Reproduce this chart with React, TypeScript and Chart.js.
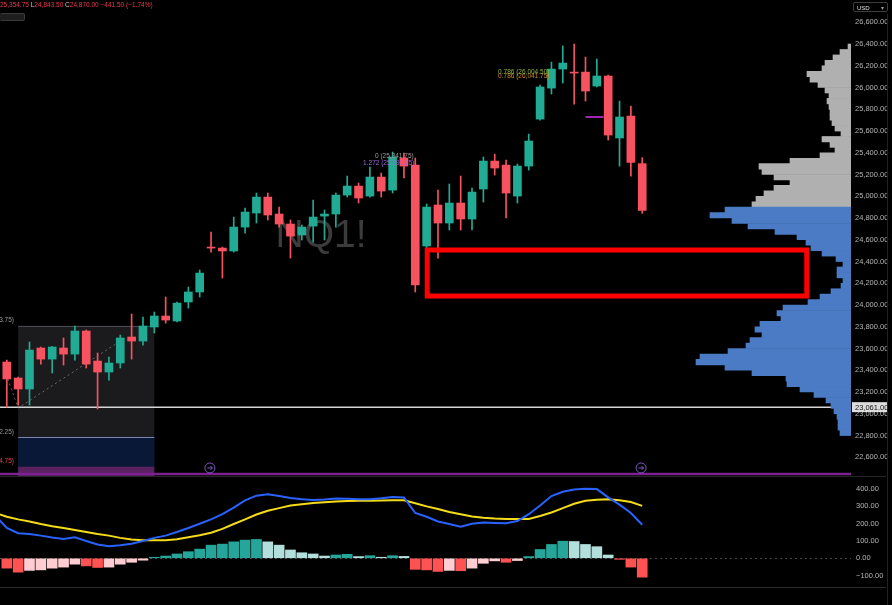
import React, { useEffect, useRef } from 'react';
import { Chart, registerables } from 'chart.js';

Chart.register(...registerables);

const FONT = '"Liberation Sans", Arial, sans-serif';
const GREEN = '#22ab94';
const RED = '#f7525f';
const PROFILE_GREY = '#b0b0b0';
const PROFILE_BLUE = '#4a7bc4';

// ---- candles (one per bar index 0..56) ----
const opens = [23476, 23329, 23228, 23605, 23503, 23605, 23549, 23761, 23485, 23384, 23467, 23706, 23669, 23798, 23899, 23853, 24028, 24120, 24533, 24524, 24497, 24717, 24846, 24993, 24837, 24745, 24644, 24726, 24818, 24837, 25011, 25094, 25002, 25177, 25057, 25352, 25287, 24543, 24920, 24754, 24938, 24791, 25067, 25324, 25287, 25002, 25278, 25710, 25995, 26170, 26142, 26142, 26014, 26106, 25536, 25738, 25300];
const highs = [23494, 23338, 23660, 23614, 23620, 23697, 23807, 23770, 23559, 23522, 23724, 23917, 23890, 23936, 24074, 24028, 24166, 24322, 24671, 24533, 24809, 24892, 25030, 25030, 24901, 24782, 24736, 24965, 24874, 25030, 25186, 25122, 25269, 25214, 25407, 25398, 25352, 24929, 25057, 25113, 25186, 25076, 25361, 25388, 25333, 25297, 25572, 26023, 26234, 26382, 26400, 26280, 26262, 26115, 25876, 25830, 25354.75];
const lows = [23061, 23080, 23080, 23457, 23375, 23448, 23494, 23421, 23044, 23310, 23421, 23503, 23632, 23743, 23834, 23844, 23972, 24074, 24487, 24248, 24487, 24662, 24754, 24782, 24717, 24432, 24598, 24579, 24598, 24717, 24993, 24938, 24993, 24993, 25030, 25168, 24120, 24506, 24432, 24690, 24690, 24690, 24947, 25195, 24800, 24938, 25241, 25701, 25940, 26041, 25848, 25876, 26005, 25517, 25278, 25186, 24843.5];
const closes = [23320, 23228, 23586, 23503, 23614, 23549, 23761, 23457, 23384, 23467, 23697, 23669, 23807, 23899, 23862, 24018, 24120, 24294, 24524, 24497, 24717, 24855, 24993, 24828, 24745, 24634, 24717, 24809, 24837, 25011, 25094, 24984, 25177, 25048, 25361, 25278, 24184, 24901, 24754, 24938, 24791, 25039, 25324, 25260, 25030, 25278, 25508, 26005, 26170, 26225, 26133, 25968, 26106, 25563, 25729, 25311.5, 24870];

// ---- MACD panel ----
const MACD_START = -1; // first line value belongs to the bar just left of the view
const macdLine = [245, 175, 145, 140, 131, 120, 112, 122, 100, 80, 69, 75, 84, 100, 118, 131, 152, 175, 200, 225, 255, 293, 335, 362, 370, 360, 348, 342, 337, 340, 346, 344, 341, 342, 347, 354, 352, 262, 240, 213, 198, 183, 200, 207, 204, 202, 215, 255, 305, 360, 385, 398, 402, 400, 352, 310, 262, 194];
const signalLine = [262, 240, 225, 213, 198, 185, 175, 163, 152, 140, 131, 118, 108, 105, 104, 105, 110, 122, 133, 148, 170, 198, 225, 253, 275, 290, 305, 312, 320, 324, 328, 331, 332, 333, 334, 335, 335, 318, 300, 285, 268, 255, 242, 235, 230, 227, 227, 227, 245, 265, 290, 315, 333, 338, 341, 336, 325, 303];
const histogram = [-57, -80, -70, -67, -57, -51, -34, -44, -53, -51, -34, -23, -11, 6, 13, 25, 38, 53, 76, 82, 95, 105, 109, 95, 76, 48, 32, 25, 13, 19, 23, 10, 15, 6, 15, 11, -64, -67, -76, -70, -72, -57, -29, -15, -23, -13, 10, 51, 80, 99, 97, 80, 67, 19, -6, -51, -109];

// ---- volume profile (price level -> relative volume) ----
const profilePrices = [26375, 26325, 26275, 26225, 26175, 26125, 26075, 26025, 25975, 25925, 25875, 25825, 25775, 25725, 25675, 25625, 25575, 25525, 25475, 25425, 25375, 25325, 25275, 25225, 25175, 25125, 25075, 25025, 24975, 24925, 24875, 24825, 24775, 24725, 24675, 24625, 24575, 24525, 24475, 24425, 24375, 24325, 24275, 24225, 24175, 24125, 24075, 24025, 23975, 23925, 23875, 23825, 23775, 23725, 23675, 23625, 23575, 23525, 23475, 23425, 23375, 23325, 23275, 23225, 23175, 23125, 23075, 23025, 22975, 22925, 22875, 22825];
const profileVolumes = [3, 11, 18, 26, 29, 44, 41, 33, 26, 22, 24, 22, 21, 21, 19, 16, 10, 29, 21, 16, 31, 61, 92, 89, 77, 61, 77, 87, 95, 99, 126, 141, 119, 103, 76, 54, 45, 40, 29, 15, 8, 14, 14, 8, 10, 20, 31, 43, 68, 74, 70, 91, 96, 89, 101, 105, 123, 151, 155, 126, 99, 65, 64, 51, 37, 25, 20, 17, 14, 13, 13, 11];
const PROFILE_SPLIT = 24900;

// ---- axes ----
const priceTicks = [22600, 22800, 23000, 23200, 23400, 23600, 23800, 24000, 24200, 24400, 24600, 24800, 25000, 25200, 25400, 25600, 25800, 26000, 26200, 26400, 26600];
const macdTicks = [-100, 0, 100, 200, 300, 400];
const X_MIN = -0.6, X_MAX = 74.4;
const PRICE_MIN = 22428, PRICE_MAX = 26805;
const MACD_MIN = -166, MACD_MAX = 470;
const PROFILE_MAX = 851;
const LAST_PRICE = 23061;

// ---- drawings ----
const watermark = { text: 'NQ1!', x: 27.7, y: 24635 };
const zoneRects = [
  { x0: 1, x1: 13, top: 23810, bottom: PRICE_MIN, fill: '#1b1b1e' },
  { x0: 1, x1: 13, top: 22789, bottom: 22513, fill: '#0a1838' },
  { x0: 1, x1: 13, top: 22513, bottom: PRICE_MIN, fill: '#5a2060' },
];
const zoneLines = [
  { x0: 1, x1: 13, y: 23810, color: '#4a4a50' },
  { x0: 1, x1: 13, y: 22789, color: '#7d88a8' },
];
const pathPoints = [{ x: -0.35, y: 23450 }, { x: 1, y: 23053 }, { x: 10.3, y: 23690 }];
const purpleMark = [{ x: 51, y: 25729 }, { x: 52.6, y: 25729 }];
const gapBox = { x0: 37.05, x1: 70.5, top: 24506, bottom: 24083 };
const separatorPrice = 22446;
const textLabels = [
  { x: 0.63, y: 23862, text: '(23,813.75)', color: '#9a9a9a', align: 'right' },
  { x: 0.63, y: 22835, text: '(22,792.25)', color: '#9a9a9a', align: 'right' },
  { x: 0.63, y: 22563, text: '(22,514.75)', color: '#e0405a', align: 'right' },
  { x: 43.3, y: 26106, text: '0.786 (26,041.75)', color: '#c98a2a', align: 'left' },
  { x: 43.3, y: 26140, text: '0.786 (26,004.50)', color: '#8fb33a', align: 'left' },
  { x: 32.45, y: 25370, text: '0 (25,341.75)', color: '#9a9a9a', align: 'left' },
  { x: 31.4, y: 25306, text: '1.272 (25,291.75)', color: '#9c6ade', align: 'left' },
];
const markers = [{ x: 17.9, y: 22502 }, { x: 55.9, y: 22502 }];

function fmt(v: number) {
  const s = Math.abs(v).toLocaleString('en-US', { minimumFractionDigits: 2, maximumFractionDigits: 2 });
  return (v < 0 ? '\u2212' : '') + s;
}

const underlay = {
  id: 'underlay',
  beforeDatasetsDraw(chart: any) {
    const { ctx, chartArea: a, scales } = chart;
    const xs = scales.x, ys = scales.y;
    ctx.save();
    ctx.beginPath();
    ctx.rect(a.left, a.top, a.right - a.left, a.bottom - a.top);
    ctx.clip();
    ctx.font = `39px ${FONT}`;
    ctx.fillStyle = '#3c3c3c';
    ctx.textAlign = 'center';
    ctx.textBaseline = 'middle';
    ctx.fillText(watermark.text, xs.getPixelForValue(watermark.x), ys.getPixelForValue(watermark.y));
    for (const z of zoneRects) {
      const x0 = xs.getPixelForValue(z.x0), x1 = xs.getPixelForValue(z.x1);
      const y0 = ys.getPixelForValue(z.top), y1 = ys.getPixelForValue(z.bottom);
      ctx.fillStyle = z.fill;
      ctx.fillRect(x0, y0, x1 - x0, y1 - y0);
    }
    for (const l of zoneLines) {
      const y = Math.round(ys.getPixelForValue(l.y)) + 0.5;
      ctx.strokeStyle = l.color;
      ctx.lineWidth = 1;
      ctx.beginPath();
      ctx.moveTo(xs.getPixelForValue(l.x0), y);
      ctx.lineTo(xs.getPixelForValue(l.x1), y);
      ctx.stroke();
    }
    // last price line
    let y = ys.getPixelForValue(LAST_PRICE);
    ctx.strokeStyle = '#d6d6d6';
    ctx.lineWidth = 1.5;
    ctx.beginPath();
    ctx.moveTo(a.left, y);
    ctx.lineTo(a.right, y);
    ctx.stroke();
    // separator
    y = ys.getPixelForValue(separatorPrice);
    ctx.strokeStyle = '#7b2290';
    ctx.lineWidth = 2.5;
    ctx.beginPath();
    ctx.moveTo(a.left, y);
    ctx.lineTo(a.right, y);
    ctx.stroke();
    ctx.restore();
  },
};

const overlay = {
  id: 'overlay',
  afterDatasetsDraw(chart: any) {
    const { ctx, chartArea: a, scales } = chart;
    const xs = scales.x, ys = scales.y;
    ctx.save();
    // gap box
    const bx0 = xs.getPixelForValue(gapBox.x0), bx1 = xs.getPixelForValue(gapBox.x1);
    const by0 = ys.getPixelForValue(gapBox.top), by1 = ys.getPixelForValue(gapBox.bottom);
    ctx.strokeStyle = '#ff0000';
    ctx.lineWidth = 5;
    ctx.strokeRect(bx0, by0, bx1 - bx0, by1 - by0);
    // labels
    ctx.font = `6.5px ${FONT}`;
    ctx.textBaseline = 'middle';
    for (const t of textLabels) {
      ctx.fillStyle = t.color;
      ctx.textAlign = t.align as CanvasTextAlign;
      ctx.fillText(t.text, xs.getPixelForValue(t.x), ys.getPixelForValue(t.y));
    }
    // markers
    for (const m of markers) {
      const mx = xs.getPixelForValue(m.x), my = ys.getPixelForValue(m.y);
      ctx.strokeStyle = '#7e57c2';
      ctx.lineWidth = 1;
      ctx.beginPath();
      ctx.arc(mx, my, 5, 0, Math.PI * 2);
      ctx.stroke();
      ctx.beginPath();
      ctx.moveTo(mx - 2.5, my);
      ctx.lineTo(mx + 2.5, my);
      ctx.moveTo(mx + 0.5, my - 2);
      ctx.lineTo(mx + 2.5, my);
      ctx.lineTo(mx + 0.5, my + 2);
      ctx.stroke();
    }
    // last price axis label
    const ly = ys.getPixelForValue(LAST_PRICE);
    ctx.fillStyle = '#dcdcdc';
    ctx.fillRect(a.right + 1, ly - 5, 35, 10);
    ctx.fillStyle = '#111';
    ctx.textAlign = 'left';
    ctx.font = `7.5px ${FONT}`;
    ctx.fillText(fmt(LAST_PRICE), a.right + 4, ly + 0.5);
    ctx.restore();
  },
};

const macdFrame = {
  id: 'macdFrame',
  afterDraw(chart: any) {
    const { ctx, chartArea: a } = chart;
    ctx.save();
    ctx.strokeStyle = '#2e2a26';
    ctx.lineWidth = 1;
    ctx.beginPath();
    ctx.moveTo(a.left, Math.round(a.bottom) + 0.5);
    ctx.lineTo(chart.width - 6, Math.round(a.bottom) + 0.5);
    ctx.stroke();
    ctx.restore();
  },
};

const fitRight = (s: any) => {
  s.width = 41;
  s.paddingTop = 0;
  s.paddingBottom = 0;
};

export default function App() {
  const priceRef = useRef<HTMLCanvasElement>(null);
  const macdRef = useRef<HTMLCanvasElement>(null);

  useEffect(() => {
    document.body.style.margin = '0';
    document.body.style.background = '#000';
    const idx = opens.map((_, i) => i);
    const candleColors = idx.map((i) => (closes[i] >= opens[i] ? GREEN : RED));

    const priceChart = new Chart(priceRef.current as HTMLCanvasElement, {
      type: 'bar',
      data: {
        datasets: [
          {
            type: 'bar', label: 'wicks',
            data: idx.map((i) => ({ x: i, y: [lows[i], highs[i]] })) as any,
            backgroundColor: candleColors, barThickness: 1, grouped: false,
            xAxisID: 'x', yAxisID: 'y', order: 3,
          } as any,
          {
            type: 'bar', label: 'bodies',
            data: idx.map((i) => ({ x: i, y: [opens[i], closes[i]] })) as any,
            backgroundColor: candleColors, barThickness: 8, grouped: false, minBarLength: 1,
            xAxisID: 'x', yAxisID: 'y', order: 2,
          } as any,
          {
            type: 'line', label: 'path', data: pathPoints as any,
            borderColor: 'rgba(170,170,170,0.55)', borderDash: [2, 3], borderWidth: 1,
            pointRadius: 0, xAxisID: 'x', yAxisID: 'y', order: 4,
          } as any,
          {
            type: 'line', label: 'mark', data: purpleMark as any,
            borderColor: '#9c27b0', borderWidth: 2, pointRadius: 0,
            xAxisID: 'x', yAxisID: 'y', order: 1,
          } as any,
          {
            type: 'bar', label: 'profile', indexAxis: 'y',
            data: profilePrices.map((p, k) => ({ x: profileVolumes[k], y: p })) as any,
            backgroundColor: profilePrices.map((p) => (p >= PROFILE_SPLIT ? PROFILE_GREY : PROFILE_BLUE)),
            barPercentage: 1, categoryPercentage: 1, grouped: false, borderWidth: 0,
            xAxisID: 'xv', yAxisID: 'yp', order: 5,
          } as any,
        ],
      },
      options: {
        responsive: false, animation: false, devicePixelRatio: 1,
        layout: { padding: 0 },
        plugins: { legend: { display: false }, tooltip: { enabled: false } },
        scales: {
          x: { type: 'linear', min: X_MIN, max: X_MAX, display: false, offset: false },
          xv: { type: 'linear', min: 0, max: PROFILE_MAX, reverse: true, display: false, offset: false },
          y: {
            type: 'linear', position: 'right', min: PRICE_MIN, max: PRICE_MAX, offset: false,
            grid: { display: false, drawTicks: false }, border: { display: false },
            ticks: {
              autoSkip: false, padding: 4, color: '#b4b4b4',
              font: { family: FONT, size: 7.5 },
              callback: (v: any) => fmt(Number(v)),
            },
            afterBuildTicks: (s: any) => { s.ticks = priceTicks.map((v) => ({ value: v })); },
            afterFit: fitRight,
          },
          yp: { type: 'linear', position: 'right', min: PRICE_MIN, max: PRICE_MAX, display: false, offset: false },
        } as any,
      },
      plugins: [underlay, overlay],
    });

    const histColors = histogram.map((v, i) => {
      const prev = i === 0 ? 0 : histogram[i - 1];
      if (v >= 0) return v >= prev ? '#26a69a' : '#b2dfdb';
      return v < prev ? '#ff5252' : '#ffcdd2';
    });

    const macdChart = new Chart(macdRef.current as HTMLCanvasElement, {
      type: 'bar',
      data: {
        datasets: [
          {
            type: 'line', label: 'MACD',
            data: macdLine.map((v, k) => ({ x: k + MACD_START, y: v })) as any,
            borderColor: '#2962ff', borderWidth: 2, pointRadius: 0, tension: 0, order: 1,
          } as any,
          {
            type: 'line', label: 'Signal',
            data: signalLine.map((v, k) => ({ x: k + MACD_START, y: v })) as any,
            borderColor: '#f5dc1a', borderWidth: 2, pointRadius: 0, tension: 0, order: 2,
          } as any,
          {
            type: 'bar', label: 'Histogram',
            data: histogram.map((v, i) => ({ x: i, y: v })) as any,
            backgroundColor: histColors, barThickness: 10, grouped: false, order: 3,
          } as any,
        ],
      },
      options: {
        responsive: false, animation: false, devicePixelRatio: 1,
        layout: { padding: { bottom: 18 } },
        plugins: { legend: { display: false }, tooltip: { enabled: false } },
        scales: {
          x: { type: 'linear', min: X_MIN, max: X_MAX, display: false, offset: false },
          y: {
            type: 'linear', position: 'right', min: MACD_MIN, max: MACD_MAX, offset: false,
            grid: {
              drawTicks: false, lineWidth: 1,
              color: (c: any) => (c.tick && c.tick.value === 0 ? '#4a4a4a' : 'rgba(0,0,0,0)'),
            },
            border: { display: false, dash: [2, 3] },
            ticks: {
              autoSkip: false, padding: 5, color: '#b4b4b4',
              font: { family: FONT, size: 7.5 },
              callback: (v: any) => fmt(Number(v)),
            },
            afterBuildTicks: (s: any) => { s.ticks = macdTicks.map((v) => ({ value: v })); },
            afterFit: fitRight,
          },
        } as any,
      },
      plugins: [macdFrame],
    });

    return () => {
      priceChart.destroy();
      macdChart.destroy();
    };
  }, []);

  const grey = { color: '#c8c8c8' };
  return (
    <div style={{ position: 'relative', width: 892, height: 605, background: '#000', overflow: 'hidden', fontFamily: FONT }}>
      <canvas ref={priceRef} width={892} height={476} style={{ position: 'absolute', left: 0, top: 0, width: 892, height: 476 }} />
      <div style={{ position: 'absolute', left: 0, top: 476, width: 886, height: 1, background: '#262626' }} />
      <canvas ref={macdRef} width={892} height={128} style={{ position: 'absolute', left: 0, top: 477, width: 892, height: 128 }} />
      <div style={{ position: 'absolute', left: 887, top: 14, width: 1, height: 591, background: '#222' }} />
      <div style={{ position: 'absolute', left: 0, top: 1, fontSize: 6.5, color: '#e8374e', whiteSpace: 'nowrap', lineHeight: '8px' }}>
        25,354.75 <span style={grey}>L</span>24,843.50 <span style={grey}>C</span>24,870.00 {'\u2212'}441.50 ({'\u2212'}1.74%)
      </div>
      <div style={{ position: 'absolute', left: 0, top: 13, width: 24, height: 6, background: '#1e1e1e', border: '1px solid #3a3a3a', borderLeft: 'none', borderRadius: 2 }} />
      <div style={{ position: 'absolute', left: 853, top: 2, width: 35, height: 10, border: '1px solid #3c3c3c', borderRadius: 2, color: '#e0e0e0', fontSize: 6, lineHeight: '10px', paddingLeft: 3, boxSizing: 'border-box' }}>
        USD<span style={{ position: 'absolute', right: 3, top: 0, color: '#999' }}>{'\u25BE'}</span>
      </div>
    </div>
  );
}
